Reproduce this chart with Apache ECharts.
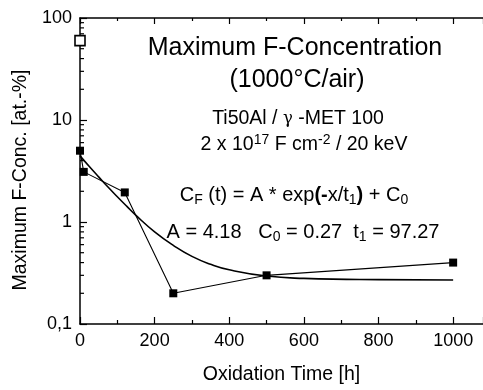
<!DOCTYPE html>
<html><head><meta charset="utf-8">
<script src="https://cdn.jsdelivr.net/npm/echarts@6/dist/echarts.min.js"></script>
<style>html,body{margin:0;padding:0;background:#fff}#c{width:483px;height:390px}</style>
</head><body><div id="c"></div>
<script>
// measured data (Oxidation time [h], max F concentration [at.-%])
const timeH = [0, 10, 120, 250, 500, 1000];
const concF = [5.0, 3.1, 1.95, 0.2, 0.3, 0.4];
// open square: as-implanted value
const implTime = [0];
const implConc = [60];
// fitted curve
const fitTime = [0, 25, 50, 75, 100, 125, 150, 200, 250, 300, 350, 400, 500, 600, 800, 1000];
const fitConc = [4.45, 3.5, 2.77, 2.2, 1.77, 1.43, 1.16, 0.8, 0.59, 0.46, 0.385, 0.34, 0.295, 0.28, 0.272, 0.27];
// tick labels
const yTickLabels = {0.1: '0,1', 1: '1', 10: '10', 100: '100'};
// log-axis minor tick values (2..9 of each decade)
const yMinorTicks = [0.2, 0.3, 0.4, 0.5, 0.6, 0.7, 0.8, 0.9,
                     2, 3, 4, 5, 6, 7, 8, 9,
                     20, 30, 40, 50, 60, 70, 80, 90];

const FONT = "'Liberation Sans', Arial, sans-serif";
const chart = echarts.init(document.getElementById('c'), null, {renderer: 'canvas'});

const zip = (a, b) => a.map((v, i) => [v, b[i]]);

function styles(size, subSize) {
  return {
    n: {fontFamily: FONT, fontSize: size, color: '#000', lineHeight: 24, verticalAlign: 'middle'},
    s: {fontFamily: FONT, fontSize: subSize, color: '#000', lineHeight: 13, verticalAlign: 'bottom'},
    p: {fontFamily: FONT, fontSize: subSize, color: '#000', lineHeight: 12, verticalAlign: 'top'},
    b: {fontFamily: FONT, fontSize: size, color: '#000', lineHeight: 24, fontWeight: 'bold', verticalAlign: 'middle'},
    g: {fontFamily: "'DejaVu Serif', serif", fontSize: size - 3, color: '#000', lineHeight: 24, verticalAlign: 'middle'}
  };
}

function txt(x, y, text, size, subSize) {
  return {type: 'text', x: x, y: y, z: 100,
    style: {text: text, fontFamily: FONT, fontSize: size, fill: '#000', align: 'center', verticalAlign: 'middle',
      rich: styles(size, subSize || 14)}};
}

const option = {
  animation: false,
  backgroundColor: '#fff',
  grid: {left: 80, right: 0, top: 18, bottom: 60, containLabel: false},
  xAxis: [{
    type: 'value', min: 0, max: 1080, interval: 200,
    axisLine: {show: true, lineStyle: {color: '#000', width: 1.5}},
    axisTick: {show: true, inside: true, length: 7, lineStyle: {color: '#000', width: 1.2}},
    minorTick: {show: true, splitNumber: 2, length: 4, lineStyle: {color: '#000', width: 1.2}},
    splitLine: {show: false},
    axisLabel: {fontFamily: FONT, fontSize: 18, color: '#000', margin: 8, showMaxLabel: false,
      formatter: v => (v % 200 === 0 ? String(v) : '')},
    name: 'Oxidation Time [h]', nameLocation: 'middle', nameGap: 41,
    nameTextStyle: {fontFamily: FONT, fontSize: 19.5, color: '#000'}
  }, {
    type: 'value', position: 'top', min: 0, max: 1080, interval: 200,
    axisLine: {show: true, onZero: false, lineStyle: {color: '#000', width: 1.5}},
    axisTick: {show: true, inside: true, length: 6, lineStyle: {color: '#000', width: 1.2}},
    minorTick: {show: true, splitNumber: 2, length: 3, lineStyle: {color: '#000', width: 1.2}},
    splitLine: {show: false}, axisLabel: {show: false}
  }],
  yAxis: {
    type: 'log', logBase: 10, min: 0.1, max: 100,
    axisLine: {show: true, lineStyle: {color: '#000', width: 1.5}},
    axisTick: {show: true, inside: true, length: 7, lineStyle: {color: '#000', width: 1.2}},
    minorTick: {show: false},
    splitLine: {show: false},
    axisLabel: {fontFamily: FONT, fontSize: 18, color: '#000', margin: 8,
      formatter: v => {
        const k = Object.keys(yTickLabels).find(t => Math.abs(Math.log10(+t) - Math.log10(v)) < 0.01);
        return k ? yTickLabels[k] : '';
      }},
    name: 'Maximum F-Conc. [at.-%]', nameLocation: 'middle', nameGap: 43, nameRotate: 90,
    nameTextStyle: {fontFamily: FONT, fontSize: 19.5, color: '#000', padding: [0, 18, 0, 0]}
  },
  series: [{
    type: 'custom', silent: true, z: 5,
    data: yMinorTicks.map(v => [0, v]),
    renderItem: (params, api) => {
      const p = api.coord([api.value(0), api.value(1)]);
      return {type: 'line', shape: {x1: p[0], y1: p[1], x2: p[0] + 4, y2: p[1]},
        style: {stroke: '#000', lineWidth: 1.2}};
    }
  }, {
    type: 'line', data: zip(fitTime, fitConc), smooth: true, symbol: 'none',
    lineStyle: {color: '#000', width: 1.6}, z: 2
  }, {
    type: 'line', data: zip(timeH, concF), symbol: 'rect', symbolSize: 8,
    itemStyle: {color: '#000'}, lineStyle: {color: '#000', width: 1.1}, z: 3
  }, {
    type: 'scatter', data: zip(implTime, implConc), symbol: 'rect', symbolSize: 10,
    itemStyle: {color: '#fff', borderColor: '#000', borderWidth: 1.6, opacity: 1}, z: 6
  }],
  graphic: [
    txt(295, 48, 'Maximum F-Concentration', 25),
    txt(297, 80, '(1000°C/air)', 25),
    txt(298, 119, '{n|Ti50Al / }{g|γ}{n| -MET 100}', 19.5),
    txt(304, 145, '{n|2 x 10}{p|17}{n| F cm}{p|-2}{n| / 20 keV}', 19.5),
    txt(294, 195, '{n|C}{s|F}{n| (t) = A * exp}{b|(}{b|-}{n|x/t}{s|1}{b|)}{n| + C}{s|0}', 20),
    txt(303, 232, '{n|A = 4.18   C}{s|0}{n| = 0.27  t}{s|1}{n| = 97.27}', 20)
  ]
};
chart.setOption(option);
</script>
</body></html>
